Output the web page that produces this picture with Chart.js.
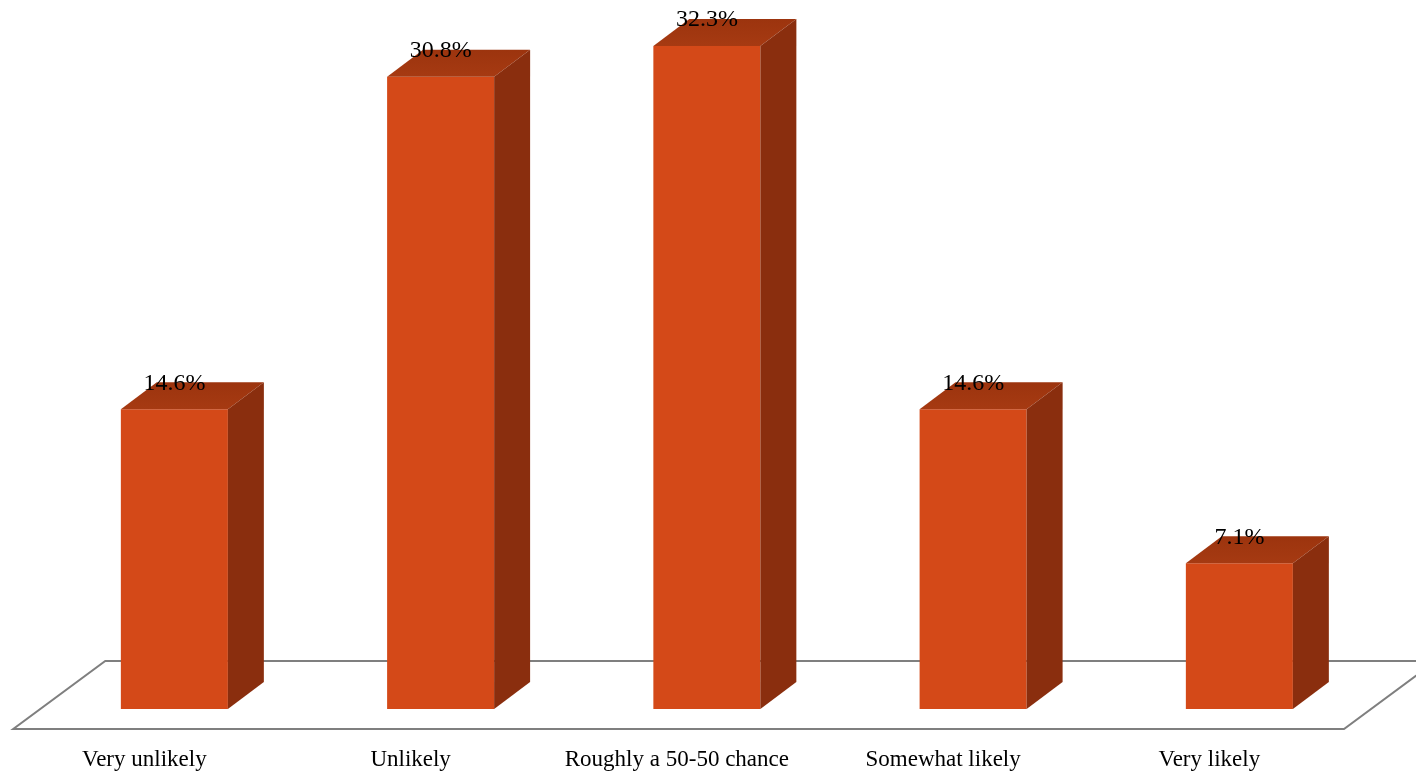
<!DOCTYPE html>
<html>
<head>
<meta charset="utf-8">
<script src="https://cdn.jsdelivr.net/npm/chart.js@4/dist/chart.umd.min.js"></script>
<style>
html,body{margin:0;padding:0;background:#fff;}
#wrap{width:1416px;height:774px;position:relative;}
</style>
</head>
<body>
<div id="wrap"><canvas id="c" width="1416" height="774"></canvas></div>
<script>
const categories = ["Very unlikely", "Unlikely", "Roughly a 50-50 chance", "Somewhat likely", "Very likely"];
const values = [14.6, 30.8, 32.3, 14.6, 7.1];
const valueLabels = ["14.6%", "30.8%", "32.3%", "14.6%", "7.1%"];

const FRONT = "#D44918";
const SIDE = "#8A2E0E";
const SERIF = "'Liberation Serif', 'DejaVu Serif', serif";

const floorPlugin = {
  id: "floor3d",
  beforeDatasetsDraw(chart) {
    const {ctx, chartArea} = chart;
    const l = chartArea.left, r = chartArea.right, b = chartArea.bottom;
    const fy = b + 20, by = b - 48, dx = 92;
    ctx.save();
    ctx.strokeStyle = "#7f7f7f";
    ctx.lineWidth = 2;
    ctx.beginPath();
    ctx.moveTo(l - 28 + dx, by);
    ctx.lineTo(r - 28.5 + dx, by);
    ctx.lineTo(r - 28.5, fy);
    ctx.lineTo(l - 28, fy);
    ctx.closePath();
    ctx.stroke();
    ctx.restore();
  },
  afterDatasetsDraw(chart) {
    const {ctx} = chart;
    const meta = chart.getDatasetMeta(0);
    ctx.save();
    meta.data.forEach((bar, i) => {
      const p = bar.getProps(["x", "y", "base", "width"], true);
      const w = p.width, x0 = p.x - w / 2, x1 = p.x + w / 2;
      const ddx = w * 0.336, ddy = ddx * 0.75;
      const g = ctx.createLinearGradient(0, p.y - ddy, 0, p.y);
      g.addColorStop(0, "#9C340E");
      g.addColorStop(1, "#A63A12");
      ctx.fillStyle = g;
      ctx.beginPath();
      ctx.moveTo(x0, p.y);
      ctx.lineTo(x0 + ddx, p.y - ddy);
      ctx.lineTo(x1 + ddx, p.y - ddy);
      ctx.lineTo(x1, p.y);
      ctx.closePath();
      ctx.fill();
      ctx.fillStyle = SIDE;
      ctx.beginPath();
      ctx.moveTo(x1, p.y);
      ctx.lineTo(x1 + ddx, p.y - ddy);
      ctx.lineTo(x1 + ddx, p.base - ddy);
      ctx.lineTo(x1, p.base);
      ctx.closePath();
      ctx.fill();
      ctx.fillStyle = "#000";
      ctx.font = "24px " + SERIF;
      ctx.textAlign = "center";
      ctx.textBaseline = "middle";
      ctx.fillText(valueLabels[i], p.x, p.y - ddy + 1);
    });
    ctx.restore();
  }
};

new Chart(document.getElementById("c"), {
  type: "bar",
  data: {
    labels: categories,
    datasets: [{
      data: values,
      backgroundColor: FRONT,
      borderWidth: 0,
      barPercentage: 0.402,
      categoryPercentage: 1.0
    }]
  },
  options: {
    responsive: false,
    animation: false,
    events: [],
    layout: {padding: {left: 41.25, right: 43.5, top: 11, bottom: 0}},
    plugins: {legend: {display: false}, tooltip: {enabled: false}},
    scales: {
      x: {
        grid: {display: false, drawTicks: false},
        border: {display: false},
        afterFit: (s) => { s.height = 65; },
        ticks: {
          color: "#000",
          font: {family: SERIF, size: 23},
          padding: 37,
          labelOffset: -30,
          maxRotation: 0,
          autoSkip: false
        }
      },
      y: {
        display: false,
        min: 0,
        max: 34
      }
    }
  },
  plugins: [floorPlugin]
});
</script>
</body>
</html>
